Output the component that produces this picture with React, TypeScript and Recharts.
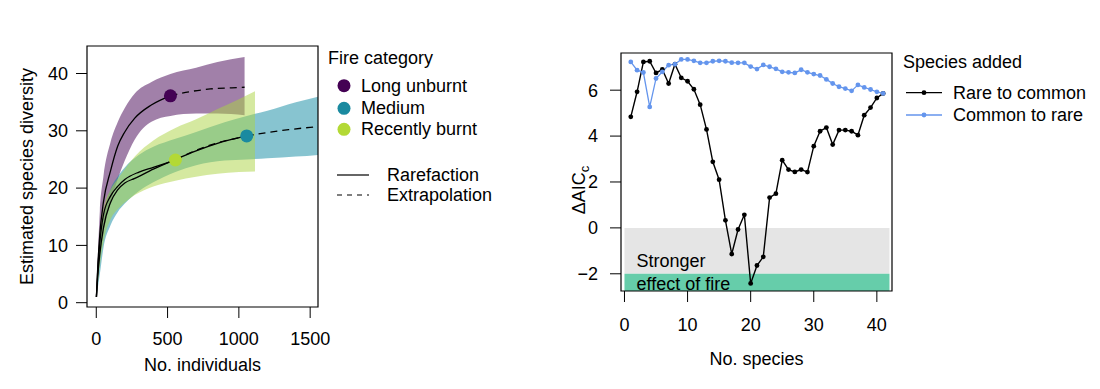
import React from "react";
import { ComposedChart, Area, Line, XAxis, YAxis, ReferenceArea, Label } from "recharts";

const FONT = '"Liberation Sans", Arial, Helvetica, sans-serif';

// ---- left panel: rarefaction / extrapolation ----
const fireCategories = ["Long unburnt", "Medium", "Recently burnt"];
const fireColors = ["#440154", "#1A8AA0", "#B3D935"];
const bandColors = ["#440154", "#0F8AA2", "#ABD341"];
const curveTypes = ["Rarefaction", "Extrapolation"];

// [no. individuals, estimated species]
const longUnburntRare = [[1, 1], [10, 6], [25, 12], [50, 17.5], [100, 23], [150, 27.3], [200, 29.8], [270, 32.2], [386, 34.5], [520, 36.1]];
const longUnburntExtra = [[520, 36.1], [650, 36.8], [800, 37.3], [950, 37.5], [1040, 37.6]];
const mediumRare = [[1, 1], [10, 4.5], [25, 8.5], [50, 13], [100, 17.5], [150, 19.7], [200, 20.9], [270, 21.7], [400, 23.3], [555, 25], [700, 26.5], [850, 27.8], [1055, 29.1]];
const mediumExtra = [[1055, 29.1], [1200, 29.7], [1350, 30.2], [1500, 30.6], [1650, 30.9]];
const recentRare = [[1, 1], [10, 5.5], [25, 10.5], [50, 15.3], [100, 18.6], [150, 20.3], [200, 21.5], [300, 22.8], [400, 23.6], [555, 24.9]];
const recentExtra = [[555, 24.9], [700, 26.6], [850, 27.9], [1000, 28.8], [1110, 29.4]];

// [no. individuals, lower, upper]
const longUnburntBand = [[1, 1, 1], [25, 8, 16], [50, 12, 22], [100, 17.5, 28], [150, 21.5, 31.5], [200, 24.8, 34], [270, 28.5, 36.5], [387, 31.6, 38.5], [520, 32.6, 39.9], [700, 33, 41], [850, 33, 42], [1040, 32.7, 42.9]];
const mediumBand = [[1, 1, 1], [25, 5, 10.5], [50, 9.5, 15], [100, 13.5, 19.8], [150, 15.8, 22], [200, 17.3, 23.6], [300, 19.5, 25.8], [400, 21, 27.2], [555, 22.8, 28.6], [700, 24, 29.8], [900, 24.8, 31.5], [1055, 25, 32.6], [1200, 25.2, 33.5], [1400, 25.5, 35], [1650, 26, 36.5]];
const recentBand = [[1, 1, 1], [25, 6.5, 12.5], [50, 10.5, 16.3], [100, 14.5, 19.7], [150, 16.3, 21.6], [200, 17.5, 23.3], [270, 18.8, 25.5], [400, 20.3, 28.3], [555, 21.3, 30.5], [700, 22, 32], [850, 22.5, 33.8], [1000, 22.8, 35.5], [1113, 22.9, 36.9]];

const observed = [[520, 36.1], [1055, 29.1], [555, 24.9]];

const indivDomain = [-65, 1555];
const indivTicks = [0, 500, 1000, 1500];
const diversityDomain = [-0.75, 44.8];
const diversityTicks = [0, 10, 20, 30, 40];

// ---- right panel: delta AICc ----
const speciesAdded = ["Rare to common", "Common to rare"];
const speciesColors = ["#000000", "#6495ED"];
const rareToCommon = [4.84, 5.93, 7.23, 7.26, 6.75, 6.9, 6.29, 7.13, 6.54, 6.39, 6.04, 5.37, 4.29, 2.88, 2.1, 0.33, -1.14, -0.07, 0.57, -2.42, -1.64, -1.26, 1.32, 1.49, 2.95, 2.54, 2.44, 2.54, 2.43, 3.56, 4.21, 4.37, 3.63, 4.26, 4.26, 4.21, 4.04, 4.91, 5.24, 5.66, 5.86];
const commonToRare = [7.23, 6.87, 6.77, 5.27, 6.51, 6.8, 7.09, 7.13, 7.34, 7.34, 7.28, 7.19, 7.19, 7.26, 7.28, 7.26, 7.2, 7.19, 7.19, 7.03, 6.92, 7.1, 7.02, 6.93, 6.8, 6.78, 6.75, 6.89, 6.78, 6.7, 6.64, 6.47, 6.29, 6.15, 6.07, 5.97, 6.23, 6.12, 6.03, 5.93, 5.86];
const speciesDomain = [-0.55, 42.4];
const speciesTicks = [0, 10, 20, 30, 40];
const aicDomain = [-2.75, 7.62];
const aicTicks = [-2, 0, 2, 4, 6];
const zoneX = [0, 42];
const greyZone = [0, -2];
const fireZone = [-2, -2.75];

const toXY = (pts: number[][]) => pts.map(([x, y]) => ({ x, y }));
const toBand = (pts: number[][]) => pts.map(([x, lo, hi]) => ({ x, range: [lo, hi] }));

const rareCurves = [longUnburntRare, mediumRare, recentRare].map(toXY);
const extraCurves = [longUnburntExtra, mediumExtra, recentExtra].map(toXY);
const bands = [longUnburntBand, mediumBand, recentBand].map(toBand);
const markerData = observed.map(([x, y], i) => ({ x, y, color: fireColors[i] }));

const aicData = rareToCommon.map((v, i) => ({ n: i + 1, rare: v, common: commonToRare[i] }));

const tickStyle = { fontSize: 18, fill: "#000", fontFamily: FONT };
const minus = (v: number) => (v < 0 ? `\u2212${-v}` : `${v}`);

function MarkerDot(props: any) {
  const { cx, cy, payload } = props;
  if (cx == null || cy == null) return null;
  return <circle cx={cx} cy={cy} r={6.5} fill={payload.color} stroke="none" />;
}

function RareLeft() {
  return (
    <ComposedChart width={560} height={389} margin={{ top: 46, right: 242, bottom: 0, left: 0 }}>
      <XAxis
        dataKey="x"
        type="number"
        domain={indivDomain}
        ticks={indivTicks}
        allowDataOverflow
        axisLine={false}
        tickSize={11}
        tickMargin={14}
        tickLine={{ stroke: "#000" }}
        tick={tickStyle}
        height={82}
      >
        <Label
          content={(p: any) => (
            <text x={p.viewBox.x + p.viewBox.width / 2} y={p.viewBox.y + 64} textAnchor="middle" fontSize={18} fontFamily={FONT}>
              No. individuals
            </text>
          )}
        />
      </XAxis>
      <YAxis
        type="number"
        domain={diversityDomain}
        ticks={diversityTicks}
        allowDataOverflow
        axisLine={false}
        tickSize={11}
        tickMargin={8}
        tickLine={{ stroke: "#000" }}
        tick={tickStyle}
        width={87}
      >
        <Label
          content={(p: any) => {
            const cx = p.viewBox.x + 27;
            const cy = p.viewBox.y + p.viewBox.height / 2;
            return (
              <text x={cx} y={cy} transform={`rotate(-90 ${cx} ${cy})`} textAnchor="middle" dominantBaseline="central" fontSize={18} fontFamily={FONT}>
                Estimated species diversity
              </text>
            );
          }}
        />
      </YAxis>
      {bands.map((b, i) => (
        <Area
          key={"band" + i}
          data={b}
          dataKey="range"
          type="monotone"
          stroke="none"
          fill={bandColors[i]}
          fillOpacity={0.5}
          isAnimationActive={false}
          activeDot={false}
        />
      ))}
      {rareCurves.map((c, i) => (
        <Line key={"rare" + i} data={c} dataKey="y" type="monotone" stroke="#000" strokeWidth={1.3} dot={false} activeDot={false} isAnimationActive={false} />
      ))}
      {extraCurves.map((c, i) => (
        <Line
          key={"extra" + i}
          data={c}
          dataKey="y"
          type="monotone"
          stroke="#000"
          strokeWidth={1.3}
          strokeDasharray="7 5"
          dot={false}
          activeDot={false}
          isAnimationActive={false}
        />
      ))}
      <Line data={markerData} dataKey="y" stroke="none" dot={<MarkerDot />} activeDot={false} isAnimationActive={false} />
      <ReferenceArea x1={indivDomain[0]} x2={indivDomain[1]} y1={diversityDomain[0]} y2={diversityDomain[1]} fill="none" stroke="#000" strokeWidth={1.2} />
    </ComposedChart>
  );
}

function AicRight() {
  return (
    <ComposedChart width={540} height={389} data={aicData} margin={{ top: 53, right: 208, bottom: 0, left: 0 }}>
      <XAxis
        dataKey="n"
        type="number"
        domain={speciesDomain}
        ticks={speciesTicks}
        allowDataOverflow
        axisLine={false}
        tickSize={11}
        tickMargin={16}
        tickLine={{ stroke: "#000" }}
        tick={tickStyle}
        height={98}
      >
        <Label
          content={(p: any) => (
            <text x={p.viewBox.x + p.viewBox.width / 2} y={p.viewBox.y + 74} textAnchor="middle" fontSize={18} fontFamily={FONT}>
              No. species
            </text>
          )}
        />
      </XAxis>
      <YAxis
        type="number"
        domain={aicDomain}
        ticks={aicTicks}
        allowDataOverflow
        axisLine={false}
        tickSize={11}
        tickMargin={12}
        tickLine={{ stroke: "#000" }}
        tick={tickStyle}
        tickFormatter={minus}
        width={61}
      >
        <Label
          content={(p: any) => {
            const cx = p.viewBox.x + 19;
            const cy = p.viewBox.y + p.viewBox.height / 2 + 18;
            return (
              <text x={cx} y={cy} transform={`rotate(-90 ${cx} ${cy})`} textAnchor="middle" dominantBaseline="central" fontSize={18} fontFamily={FONT}>
                {"\u0394AIC"}
                <tspan fontSize={13} dy={5}>c</tspan>
              </text>
            );
          }}
        />
      </YAxis>
      <ReferenceArea x1={zoneX[0]} x2={zoneX[1]} y1={greyZone[0]} y2={greyZone[1]} fill="#E5E5E5" fillOpacity={1} stroke="none">
        <Label
          content={(p: any) => (
            <text x={p.viewBox.x + 12} y={p.viewBox.y + 39} fontSize={18} fontFamily={FONT}>
              Stronger
            </text>
          )}
        />
      </ReferenceArea>
      <ReferenceArea x1={zoneX[0]} x2={zoneX[1]} y1={fireZone[0]} y2={fireZone[1]} fill="#66CDAA" fillOpacity={1} stroke="none">
        <Label
          content={(p: any) => (
            <text x={p.viewBox.x + 12} y={p.viewBox.y + 16} fontSize={18} fontFamily={FONT}>
              effect of fire
            </text>
          )}
        />
      </ReferenceArea>
      <Line dataKey="rare" stroke={speciesColors[0]} strokeWidth={1.4} dot={{ r: 2.4, fill: speciesColors[0], stroke: "none" }} activeDot={false} isAnimationActive={false} />
      <Line dataKey="common" stroke={speciesColors[1]} strokeWidth={1.3} dot={{ r: 2.4, fill: speciesColors[1], stroke: "none" }} activeDot={false} isAnimationActive={false} />
      <ReferenceArea x1={speciesDomain[0]} x2={speciesDomain[1]} y1={aicDomain[0]} y2={aicDomain[1]} fill="none" stroke="#000" strokeWidth={1.2} />
    </ComposedChart>
  );
}

const row = (top: number, left: number, text: string) => (
  <div key={text} style={{ position: "absolute", left, top: top - 11, height: 22, lineHeight: "22px", fontSize: 18, whiteSpace: "nowrap" }}>
    {text}
  </div>
);

function Legends() {
  const fireY = [85.7, 108.3, 129.3];
  const curveY = [175, 195];
  const spY = [92.7, 115];
  return (
    <>
      {row(58.3, 328, "Fire category")}
      {fireCategories.map((c, i) => row(fireY[i], 361, c))}
      {curveTypes.map((c, i) => row(curveY[i], 387, c))}
      {row(62, 903, "Species added")}
      {speciesAdded.map((c, i) => row(spY[i], 953, c))}
      <svg width={1100} height={389} style={{ position: "absolute", left: 0, top: 0, pointerEvents: "none" }}>
        {fireColors.map((c, i) => (
          <circle key={c} cx={344} cy={fireY[i]} r={6.5} fill={c} />
        ))}
        {curveY.map((y, i) => (
          <line key={y} x1={337} x2={369} y1={y} y2={y} stroke="#000" strokeWidth={1.2} strokeDasharray={i === 1 ? "5 5" : undefined} />
        ))}
        {spY.map((y, i) => (
          <g key={y}>
            <line x1={906} x2={942} y1={y} y2={y} stroke={speciesColors[i]} strokeWidth={1.3} />
            <circle cx={924} cy={y} r={2.4} fill={speciesColors[i]} />
          </g>
        ))}
      </svg>
    </>
  );
}

export default function App() {
  return (
    <div style={{ position: "absolute", left: 0, top: 0, width: 1100, height: 389, background: "#fff", fontFamily: FONT, color: "#000" }}>
      <div style={{ position: "absolute", left: 0, top: 0 }}>
        <RareLeft />
      </div>
      <div style={{ position: "absolute", left: 560, top: 0 }}>
        <AicRight />
      </div>
      <Legends />
    </div>
  );
}
